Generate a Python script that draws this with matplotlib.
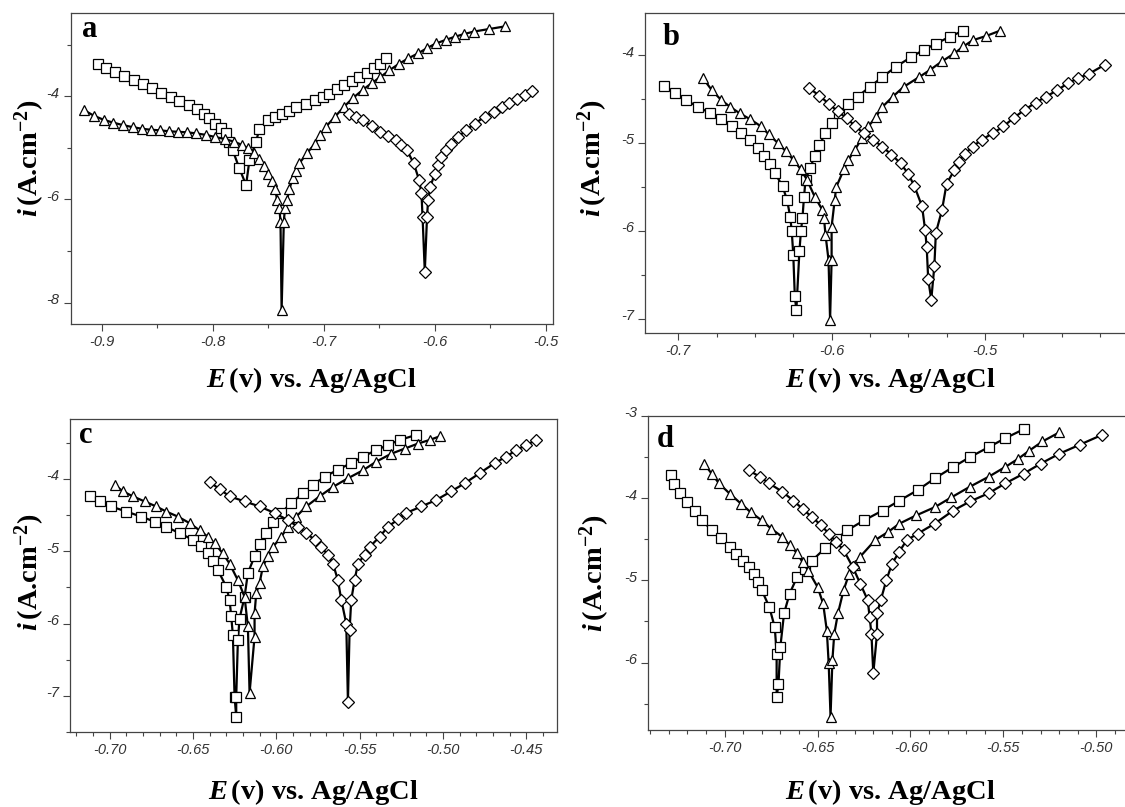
import matplotlib
matplotlib.use("Agg")
import matplotlib.pyplot as plt
from matplotlib.ticker import MultipleLocator, FormatStrFormatter
from matplotlib.transforms import ScaledTranslation

plt.rcParams['axes.unicode_minus'] = False
plt.rcParams['mathtext.fontset'] = 'custom'
plt.rcParams['mathtext.rm'] = 'Liberation Serif:bold'
plt.rcParams['mathtext.it'] = 'Liberation Serif:italic:bold'
plt.rcParams['mathtext.bf'] = 'Liberation Serif:bold'

# panel a : E (V) and log i, squares / triangles / diamonds
a_sq_E = [-0.903, -0.896, -0.888, -0.880, -0.871, -0.863, -0.855, -0.847, -0.838, -0.830, -0.821, -0.814,
          -0.808, -0.803, -0.798, -0.793, -0.788, -0.785, -0.782, -0.776, -0.770,
          -0.767, -0.761, -0.758, -0.750, -0.744, -0.738, -0.731, -0.725, -0.716, -0.708, -0.701,
          -0.695, -0.688, -0.682, -0.675, -0.668, -0.661, -0.655, -0.649, -0.644]
a_sq_i = [-3.37, -3.45, -3.53, -3.61, -3.69, -3.77, -3.85, -3.93, -4.01, -4.09, -4.17, -4.25,
          -4.34, -4.43, -4.53, -4.62, -4.72, -4.88, -5.05, -5.40, -5.72,
          -5.24, -4.88, -4.63, -4.46, -4.40, -4.34, -4.28, -4.21, -4.15, -4.08, -4.02,
          -3.95, -3.87, -3.79, -3.71, -3.63, -3.55, -3.46, -3.37, -3.27]
a_tr_E = [-0.916, -0.907, -0.898, -0.890, -0.881, -0.872, -0.864, -0.856, -0.848, -0.839, -0.831, -0.823,
          -0.815, -0.806, -0.798, -0.789, -0.781, -0.774, -0.768, -0.763, -0.758, -0.754, -0.750, -0.747,
          -0.744, -0.742, -0.740, -0.739, -0.738,
          -0.736, -0.735, -0.733, -0.731, -0.728, -0.725, -0.722, -0.715, -0.708, -0.703, -0.698, -0.690,
          -0.682, -0.674, -0.665, -0.657, -0.649, -0.641, -0.632, -0.624, -0.615, -0.607, -0.599, -0.590,
          -0.582, -0.574, -0.565, -0.551, -0.537]
a_tr_i = [-4.27, -4.38, -4.46, -4.51, -4.56, -4.60, -4.63, -4.65, -4.66, -4.68, -4.69, -4.70,
          -4.72, -4.75, -4.79, -4.83, -4.88, -4.94, -5.01, -5.10, -5.21, -5.35, -5.50, -5.65,
          -5.79, -6.01, -6.17, -6.43, -8.14,
          -6.43, -6.17, -6.01, -5.80, -5.59, -5.44, -5.30, -5.10, -4.92, -4.75, -4.59, -4.40,
          -4.21, -4.04, -3.88, -3.75, -3.63, -3.50, -3.37, -3.27, -3.17, -3.07, -2.98, -2.91,
          -2.85, -2.80, -2.75, -2.70, -2.65]
a_di_E = [-0.677, -0.671, -0.665, -0.657, -0.649, -0.642, -0.635, -0.630, -0.625, -0.619, -0.614, -0.612,
          -0.611, -0.609,
          -0.607, -0.606, -0.604, -0.600, -0.597, -0.594, -0.590, -0.585, -0.579, -0.572, -0.564, -0.555,
          -0.547, -0.539, -0.533, -0.526, -0.519, -0.512]
a_di_i = [-4.34, -4.40, -4.46, -4.58, -4.69, -4.77, -4.85, -4.95, -5.05, -5.30, -5.63, -5.88,
          -6.34, -7.40,
          -6.34, -6.01, -5.75, -5.50, -5.33, -5.17, -5.04, -4.92, -4.79, -4.66, -4.53, -4.40,
          -4.30, -4.21, -4.13, -4.05, -3.97, -3.90]

# panel b
b_sq_E = [-0.709, -0.702, -0.695, -0.687, -0.679, -0.672, -0.665, -0.659, -0.653, -0.648, -0.644, -0.640,
          -0.637, -0.632, -0.629, -0.627, -0.626, -0.625, -0.624, -0.623,
          -0.621, -0.620, -0.619, -0.618, -0.617, -0.614, -0.611, -0.608, -0.604, -0.600, -0.595, -0.589,
          -0.583, -0.575, -0.567, -0.558, -0.548, -0.540, -0.532, -0.523, -0.514]
b_sq_i = [-4.35, -4.43, -4.51, -4.59, -4.66, -4.73, -4.81, -4.88, -4.96, -5.05, -5.15, -5.24,
          -5.34, -5.49, -5.65, -5.84, -6.00, -6.27, -6.74, -6.90,
          -6.23, -6.00, -5.85, -5.61, -5.42, -5.28, -5.15, -5.02, -4.89, -4.77, -4.66, -4.56,
          -4.47, -4.36, -4.25, -4.13, -4.02, -3.94, -3.87, -3.79, -3.72]
b_tr_E = [-0.684, -0.678, -0.672, -0.666, -0.660, -0.653, -0.646, -0.641, -0.635, -0.630, -0.625, -0.620,
          -0.616, -0.611, -0.606, -0.605, -0.604, -0.602, -0.601,
          -0.600, -0.600, -0.598, -0.597, -0.592, -0.589, -0.585, -0.580, -0.576, -0.571, -0.567, -0.560,
          -0.553, -0.543, -0.536, -0.528, -0.520, -0.514, -0.508, -0.499, -0.490]
b_tr_i = [-4.26, -4.40, -4.51, -4.59, -4.66, -4.73, -4.81, -4.90, -5.00, -5.09, -5.19, -5.30,
          -5.42, -5.61, -5.76, -5.85, -6.04, -6.33, -7.01,
          -6.33, -5.95, -5.65, -5.50, -5.30, -5.19, -5.08, -4.94, -4.81, -4.70, -4.59, -4.47,
          -4.36, -4.25, -4.17, -4.07, -3.98, -3.90, -3.83, -3.78, -3.72]
b_di_E = [-0.615, -0.608, -0.602, -0.596, -0.590, -0.585, -0.579, -0.573, -0.567, -0.561, -0.555, -0.550,
          -0.546, -0.541, -0.539, -0.538, -0.537, -0.535,
          -0.533, -0.532, -0.528, -0.525, -0.520, -0.517, -0.513, -0.508, -0.502, -0.495, -0.488, -0.481,
          -0.474, -0.467, -0.460, -0.453, -0.446, -0.439, -0.432, -0.422]
b_di_i = [-4.37, -4.46, -4.55, -4.64, -4.72, -4.80, -4.89, -4.96, -5.04, -5.13, -5.23, -5.35,
          -5.49, -5.72, -5.99, -6.18, -6.55, -6.78,
          -6.40, -6.02, -5.76, -5.46, -5.31, -5.21, -5.12, -5.04, -4.96, -4.89, -4.81, -4.71,
          -4.62, -4.54, -4.47, -4.40, -4.32, -4.26, -4.21, -4.11]

# panel c
c_sq_E = [-0.712, -0.706, -0.699, -0.690, -0.681, -0.673, -0.666, -0.658, -0.650, -0.645, -0.641, -0.638,
          -0.635, -0.630, -0.628, -0.627, -0.626, -0.625, -0.624,
          -0.624, -0.623, -0.622, -0.619, -0.617, -0.613, -0.610, -0.606, -0.602, -0.597, -0.591, -0.584,
          -0.578, -0.571, -0.563, -0.555, -0.548, -0.540, -0.533, -0.526, -0.516]
c_sq_i = [-4.24, -4.31, -4.38, -4.45, -4.52, -4.59, -4.66, -4.75, -4.84, -4.93, -5.03, -5.14,
          -5.26, -5.49, -5.67, -5.90, -6.16, -7.01, -7.29,
          -7.01, -6.23, -5.93, -5.63, -5.30, -5.07, -4.90, -4.75, -4.60, -4.47, -4.33, -4.20,
          -4.08, -3.97, -3.87, -3.78, -3.69, -3.60, -3.53, -3.46, -3.39]
c_tr_E = [-0.697, -0.692, -0.686, -0.679, -0.672, -0.666, -0.659, -0.652, -0.646, -0.641, -0.637, -0.632,
          -0.628, -0.623, -0.619, -0.617, -0.616,
          -0.613, -0.613, -0.612, -0.610, -0.608, -0.605, -0.602, -0.597, -0.593, -0.588, -0.582, -0.574,
          -0.566, -0.557, -0.548, -0.540, -0.531, -0.523, -0.515, -0.508, -0.502]
c_tr_i = [-4.08, -4.17, -4.24, -4.31, -4.38, -4.45, -4.52, -4.61, -4.71, -4.80, -4.89, -5.03,
          -5.17, -5.40, -5.63, -6.04, -6.96,
          -6.18, -5.86, -5.58, -5.44, -5.21, -5.07, -4.94, -4.80, -4.66, -4.52, -4.38, -4.24,
          -4.11, -3.99, -3.88, -3.76, -3.65, -3.58, -3.51, -3.46, -3.41]
c_di_E = [-0.640, -0.634, -0.628, -0.619, -0.610, -0.601, -0.593, -0.587, -0.582, -0.577, -0.573, -0.569,
          -0.566, -0.563, -0.561, -0.558, -0.557,
          -0.556, -0.555, -0.553, -0.551, -0.547, -0.544, -0.538, -0.533, -0.527, -0.522, -0.513, -0.504,
          -0.495, -0.487, -0.478, -0.469, -0.462, -0.456, -0.450, -0.444]
c_di_i = [-4.04, -4.14, -4.24, -4.31, -4.38, -4.47, -4.57, -4.66, -4.75, -4.84, -4.94, -5.05,
          -5.17, -5.40, -5.67, -6.00, -7.08,
          -6.09, -5.67, -5.40, -5.17, -5.05, -4.94, -4.80, -4.66, -4.56, -4.47, -4.38, -4.29,
          -4.17, -4.06, -3.92, -3.78, -3.69, -3.60, -3.53, -3.46]

# panel d
d_sq_E = [-0.729, -0.727, -0.724, -0.720, -0.716, -0.712, -0.707, -0.702, -0.697, -0.694, -0.690, -0.687,
          -0.684, -0.682, -0.680, -0.676, -0.673, -0.672, -0.672,
          -0.671, -0.670, -0.668, -0.665, -0.661, -0.657, -0.653, -0.646, -0.640, -0.634, -0.625, -0.615,
          -0.606, -0.596, -0.587, -0.577, -0.568, -0.558, -0.549, -0.539]
d_sq_i = [-3.72, -3.83, -3.94, -4.05, -4.15, -4.27, -4.39, -4.49, -4.59, -4.68, -4.76, -4.84,
          -4.92, -5.02, -5.12, -5.32, -5.57, -5.89, -6.42,
          -6.26, -5.81, -5.40, -5.16, -4.96, -4.86, -4.76, -4.61, -4.50, -4.39, -4.27, -4.15,
          -4.03, -3.90, -3.76, -3.62, -3.50, -3.38, -3.27, -3.16]
d_tr_E = [-0.711, -0.707, -0.703, -0.697, -0.691, -0.686, -0.680, -0.675, -0.669, -0.665, -0.661, -0.658,
          -0.655, -0.650, -0.647, -0.645, -0.644, -0.643,
          -0.642, -0.641, -0.639, -0.636, -0.633, -0.630, -0.627, -0.619, -0.612, -0.606, -0.597, -0.587,
          -0.578, -0.568, -0.558, -0.549, -0.542, -0.536, -0.529, -0.520]
d_tr_i = [-3.58, -3.70, -3.82, -3.95, -4.07, -4.17, -4.27, -4.37, -4.47, -4.57, -4.67, -4.78,
          -4.88, -5.08, -5.28, -5.61, -6.01, -6.66,
          -5.97, -5.65, -5.40, -5.12, -4.92, -4.81, -4.71, -4.51, -4.41, -4.31, -4.21, -4.11,
          -3.99, -3.86, -3.74, -3.62, -3.52, -3.42, -3.31, -3.20]
d_di_E = [-0.687, -0.681, -0.676, -0.669, -0.663, -0.658, -0.653, -0.648, -0.644, -0.640, -0.636, -0.631,
          -0.627, -0.623, -0.622, -0.621, -0.620,
          -0.618, -0.618, -0.616, -0.613, -0.610, -0.606, -0.602, -0.596, -0.587, -0.577, -0.568, -0.558,
          -0.549, -0.539, -0.530, -0.520, -0.509, -0.497]
d_di_i = [-3.66, -3.74, -3.82, -3.92, -4.03, -4.13, -4.23, -4.33, -4.43, -4.53, -4.63, -4.84,
          -5.04, -5.24, -5.44, -5.65, -6.13,
          -5.65, -5.40, -5.24, -5.00, -4.80, -4.65, -4.51, -4.43, -4.31, -4.15, -4.04, -3.94,
          -3.82, -3.70, -3.58, -3.46, -3.35, -3.23]

panel_letters = ['a', 'b', 'c', 'd']

W, H = 1125, 807
fig = plt.figure(figsize=(W / 100, H / 100), dpi=100)


def box(l, t, r, b):
    return [l / W, 1 - b / H, (r - l) / W, (b - t) / H]


panels = [
    dict(pos=box(70.7, 13, 553, 324), xlim=(-0.928, -0.4935), ylim=(-8.41, -2.39),
         xmaj=0.1, xmin=0.05, ymaj=2, ymin=1, fmt='%.1f',
         series=[(a_sq_E, a_sq_i, 's'), (a_tr_E, a_tr_i, '^'), (a_di_E, a_di_i, 'D')],
         let=(82, 37), xl=(311, 380), yl=(30, 158)),
    dict(pos=box(645, 13, 1130, 333), xlim=(-0.7217, -0.4054), ylim=(-7.16, -3.52),
         xmaj=0.1, xmin=0.025, ymaj=1, ymin=0.5, fmt='%.1f',
         series=[(b_sq_E, b_sq_i, 's'), (b_tr_E, b_tr_i, '^'), (b_di_E, b_di_i, 'D')],
         let=(663, 45), xl=(890, 380), yl=(593, 158)),
    dict(pos=box(70, 419, 557, 732), xlim=(-0.7237, -0.4316), ylim=(-7.50, -3.17),
         xmaj=0.05, xmin=0.01, ymaj=1, ymin=0.5, fmt='%.2f',
         series=[(c_sq_E, c_sq_i, 's'), (c_tr_E, c_tr_i, '^'), (c_di_E, c_di_i, 'D')],
         let=(79, 443), xl=(313, 792), yl=(30, 572)),
    dict(pos=box(648, 416, 1130, 730), xlim=(-0.7412, -0.4819), ylim=(-6.82, -3.0),
         xmaj=0.05, xmin=0.01, ymaj=1, ymin=0.5, fmt='%.2f',
         series=[(d_sq_E, d_sq_i, 's'), (d_tr_E, d_tr_i, '^'), (d_di_E, d_di_i, 'D')],
         let=(657, 447), xl=(890, 792), yl=(595, 573)),
]

msize = {'s': 6.8, '^': 7.2, 'D': 5.8}

for p, letter in zip(panels, panel_letters):
    ax = fig.add_axes(p['pos'])
    for E, logi, m in p['series']:
        ax.plot(E, logi, color='black', lw=1.6, marker=m, ms=msize[m],
                mfc='white', mec='black', mew=0.9)
    ax.set_xlim(*p['xlim'])
    ax.set_ylim(*p['ylim'])
    ax.xaxis.set_major_locator(MultipleLocator(p['xmaj']))
    ax.xaxis.set_minor_locator(MultipleLocator(p['xmin']))
    ax.yaxis.set_major_locator(MultipleLocator(p['ymaj']))
    ax.yaxis.set_minor_locator(MultipleLocator(p['ymin']))
    ax.xaxis.set_major_formatter(FormatStrFormatter(p['fmt']))
    ax.yaxis.set_major_formatter(FormatStrFormatter('%d'))
    ax.tick_params(which='both', direction='out', color='#444', width=0.8)
    ax.tick_params(which='major', length=5, pad=3)
    ax.tick_params(which='minor', length=3)
    for s in ax.spines.values():
        s.set_color('#444')
        s.set_linewidth(0.9)
    for lab in ax.get_xticklabels() + ax.get_yticklabels():
        lab.set_fontfamily('Liberation Sans')
        lab.set_fontstyle('italic')
        lab.set_fontsize(10.5)
        lab.set_color('#333')
    for lab in ax.get_yticklabels():
        lab.set_transform(lab.get_transform() + ScaledTranslation(0, 3 / 72, fig.dpi_scale_trans))

    fig.text(p['let'][0] / W, 1 - p['let'][1] / H, letter, family='Liberation Serif',
             weight='bold', fontsize=22, ha='left', va='baseline')
    fig.text(p['xl'][0] / W, 1 - p['xl'][1] / H, r'$E\,$(v) vs. Ag/AgCl',
             family='Liberation Serif', weight='bold', fontsize=20.5, ha='center', va='center')
    fig.text(p['yl'][0] / W, 1 - p['yl'][1] / H, r'$i\,$(A.cm$^{\mathrm{-2}}$)',
             family='Liberation Serif', weight='bold', fontsize=20.5, ha='center', va='center',
             rotation=90)

fig.savefig('out.png', dpi=100)
